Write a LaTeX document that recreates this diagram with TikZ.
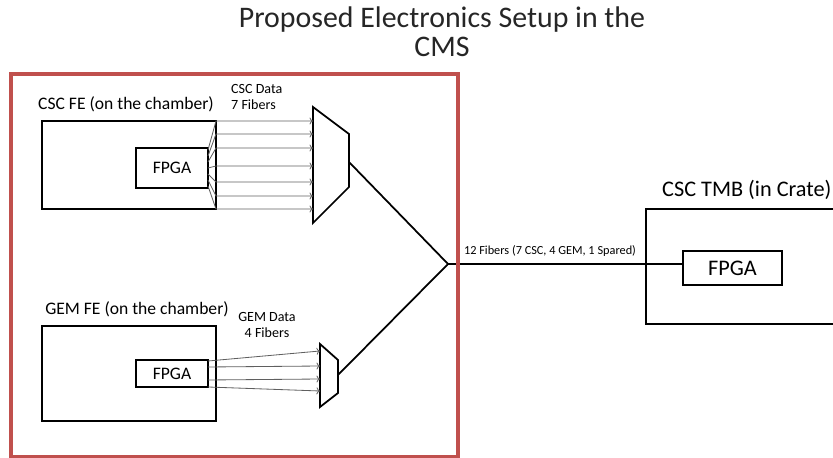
\documentclass[tikz,border=0pt]{standalone}
\usepackage{fontspec}
\setmainfont{Carlito}
\usepackage{xcolor}
\usepackage{tikz}
\usetikzlibrary{positioning, arrows.meta}

\definecolor{framered}{RGB}{192,80,77}
\definecolor{fibergray}{RGB}{95,95,95}

\begin{document}
\begin{tikzpicture}[x=0.03cm, y=-0.03cm, line join=miter,
    >={To[length=3pt, width=6pt]},
    box/.style={draw, line width=1.5pt, inner sep=0pt},
    frame/.style={draw=framered, line width=2.6pt, inner sep=0pt},
    fiber/.style={draw=fibergray, line width=0.7pt, ->},
    trunk/.style={draw, line width=1.5pt},
    mux/.style={draw, line width=1.5pt},
    label/.style={inner sep=0pt, font=\fontsize{15}{17}\selectfont},
    small/.style={inner sep=0pt, font=\fontsize{12}{13}\selectfont},
    big/.style={inner sep=0pt, font=\fontsize{19}{22}\selectfont}]
  \clip (0,0) rectangle (833,458);
  % Title
  \node[inner sep=0pt, align=center, text=black!85,
        font=\fontsize{25.5}{25}\selectfont] (title) at (442,32) {Proposed Electronics Setup in the\\CMS};
  % Nodes
  \node[box, minimum width=5.22cm, minimum height=2.64cm] (cscfe) at (129,165) {};
  \node[box, label, minimum width=2.16cm, minimum height=1.2cm] (cscfpga) at (172,168) {FPGA};
  \node[label] (cscfetext) at (126,104) {CSC FE (on the chamber)};
  \node[box, minimum width=5.22cm, minimum height=2.85cm] (gemfe) at (129,373.5) {};
  \node[box, label, minimum width=2.16cm, minimum height=0.81cm] (gemfpga) at (172,373.5) {FPGA};
  \node[label] (gemfetext) at (137,309) {GEM FE (on the chamber)};
  \node[box, minimum width=6.12cm, minimum height=3.45cm] (tmb) at (748,266.5) {};
  \node[box, big, minimum width=2.97cm, minimum height=1.02cm] (tmbfpga) at (732.5,268) {FPGA};
  \node[big, anchor=west] (tmbtext) at (662,190) {CSC TMB (in Crate)};
  \node[small, align=left, anchor=west] (cscdata) at (231,97) {CSC Data\\7 Fibers};
  \node[small, align=center] (gemdata) at (267,325) {GEM Data\\4 Fibers};
  \node[inner sep=0pt, font=\fontsize{10.5}{12}\selectfont] (trunktext) at (550,251) {12 Fibers (7 CSC, 4 GEM, 1 Spared)};
  % Multiplexers
  \draw[mux] (313,107) -- (349,134) -- (349,187) -- (313,223) -- cycle;
  \draw[mux] (320,344) -- (338,360) -- (338,393) -- (320,407) -- cycle;
  \coordinate (cscmux) at (349,162);
  \coordinate (gemmux) at (338,375);
  \coordinate (join) at (448,264);
  % Edges
  \foreach \i/\a/\b in {1/150/121, 2/156/134, 3/162/148, 4/168/166, 5/174/182, 6/180/196, 7/186/209} {
    \coordinate (cscsrc\i) at (208,\a);
    \coordinate (cscedge\i) at (216,\b);
    \coordinate (cscin\i) at (313,\b);
    \draw[fiber] (cscsrc\i) -- (cscedge\i) -- (cscin\i);
  }
  \foreach \i/\a/\b in {1/361/351, 2/367/366, 3/380/379, 4/387/391} {
    \coordinate (gemsrc\i) at (208,\a);
    \coordinate (gemin\i) at (320,\b);
    \draw[fiber] (gemsrc\i) -- (gemin\i);
  }
  \draw[trunk] (cscmux) -- (join) -- (gemmux);
  \draw[trunk] (join) -- (tmbfpga.west |- join);
  % Frame
  \node[frame, minimum width=13.41cm, minimum height=11.49cm] (cms) at (234.5,265.5) {};
\end{tikzpicture}
\end{document}
